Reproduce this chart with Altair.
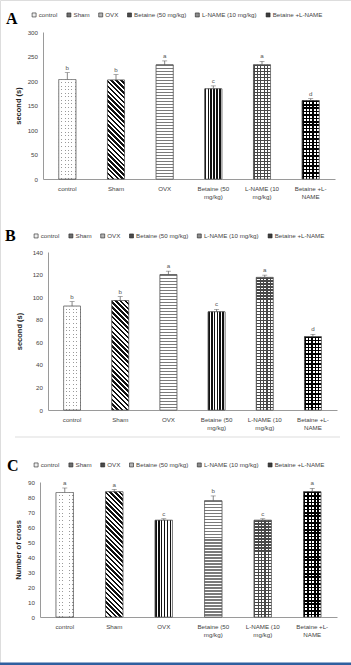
import altair as alt
import pandas as pd

# ---------------- data ----------------
cats = ["control", "Sham", "OVX", "Betaine (50 mg/kg)", "L-NAME (10 mg/kg)", "Betaine +L-NAME"]
cat_lines = [["control"], ["Sham"], ["OVX"], ["Betaine (50", "mg/kg)"],
             ["L-NAME (10", "mg/kg)"], ["Betaine +L-", "NAME"]]

a_vals = [203, 202, 233, 184, 233, 160]
a_errs = [14, 11, 8, 6, 7, 4]
a_letters = ["b", "b", "a", "c", "a", "d"]

b_vals = [92, 97, 120, 87, 117.5, 65]
b_errs = [4, 3.5, 3, 2.2, 2, 2]
b_letters = ["b", "b", "a", "c", "a", "d"]

c_vals = [83, 83.5, 64.5, 77.5, 64.5, 83.5]
c_errs = [3, 1.5, 1, 3.2, 1, 2.2]
c_letters = ["a", "a", "c", "b", "c", "a"]

a_ticks = [0, 50, 100, 150, 200, 250, 300]
b_ticks = [0, 20, 40, 60, 80, 100, 120, 140]
c_ticks = [0, 10, 20, 30, 40, 50, 60, 70, 80, 90]

patterns_ab = ["dots", "diag", "hstripe", "vstripe", "brick", "checker"]
patterns_c = ["dots", "diag", "vstripe", "hstripe", "brick", "checker"]

# ---------------- styling / page layout ----------------
PAGE_W, PAGE_H = 351, 665
FONT = "Liberation Sans"
TONE = {"dots": "#eeeeee", "diag": "#6e6e6e", "hstripe": "#b4b4b4",
        "vstripe": "#4a4a4a", "brick": "#8c8c8c", "checker": "#3c3c3c"}
CLEAR = "rgba(255,255,255,0)"
PAD_IN = 0.65
TXT = "#444444"
FS = 6.2


def stripe_stops(n, frac, c_on, c_off):
    n = max(int(round(n)), 1)
    stops = []
    for k in range(n):
        a, b, c = k / n, (k + frac) / n, (k + 1) / n
        stops += [(a, c_on), (b, c_on), (b, c_off), (c, c_off)]
    return [{"offset": round(o, 5), "color": col} for o, col in stops]


def lin(x1, y1, x2, y2, stops):
    return {"gradient": "linear", "x1": x1, "y1": y1, "x2": x2, "y2": y2, "stops": stops}


def horiz(h, period, frac, c_on, c_off):
    return lin(0, 0, 0, 1, stripe_stops(h / period, frac, c_on, c_off))


def vert(w, period, frac, c_on, c_off):
    return lin(0, 0, 1, 0, stripe_stops(w / period, frac, c_on, c_off))


def diag(w, h, period, frac, c_on, c_off):
    r = w / h
    s = (r + 1) / (r * r + 1)
    n = (w + h) / (2 ** 0.5) / period
    return lin(0, 1, s * r, 1 - s, stripe_stops(n, frac, c_on, c_off))


def overlays(pat, w, h):
    if pat == "dots":
        return ["#9a9a9a", vert(w, 3.6, 0.72, "#ffffff", CLEAR), horiz(h, 3.6, 0.72, "#ffffff", CLEAR)]
    if pat == "diag":
        return [diag(w, h, 3.4, 0.5, "#111111", "#ffffff")]
    if pat == "hstripe":
        return [horiz(h, 3.0, 0.5, "#7a7a7a", "#ffffff")]
    if pat == "vstripe":
        return [vert(w, 2.7, 0.55, "#111111", "#ffffff")]
    if pat == "brick":
        return ["#ffffff", horiz(h, 3.0, 0.45, "#484848", CLEAR), vert(w, 3.6, 0.32, "#484848", CLEAR)]
    if pat == "checker":
        return ["#ffffff", vert(w, 3.4, 0.45, "#000000", CLEAR), horiz(h, 3.4, 0.45, "#000000", CLEAR)]
    return []


def label_expr():
    expr = "datum.label"
    for c, lines in zip(cats, cat_lines):
        arr = "[" + ",".join("'" + t + "'" for t in lines) + "]"
        expr = f"datum.label == '{c}' ? {arr} : ({expr})"
    return expr


def panel(vals, errs, letters, patterns, ticks, ytitle, title_pad, letter, letter_pos,
          x0, x1, y0, y1, legx, legy, rules=(), rects=()):
    """x0..x1: plot left/right, y0: pixel of zero, y1: pixel of top tick."""
    dmax = ticks[-1]
    df = pd.DataFrame({"cat": cats, "val": vals, "err": errs, "lab": letters,
                       "hi": [v + e for v, e in zip(vals, errs)]})
    base = alt.Chart(df)
    xenc = alt.X("cat:N", sort=cats, title=None,
                 scale=alt.Scale(range=[x0, x1], paddingInner=PAD_IN, paddingOuter=PAD_IN / 2),
                 axis=alt.Axis(orient="bottom", offset=y0 - PAGE_H,
                               labelExpr=label_expr(), labelAngle=0, labelFontSize=FS,
                               labelColor=TXT, labelPadding=6.5, labelLineHeight=8,
                               labelBaseline="top", ticks=False, tickSize=0,
                               domainColor="#9a9a9a", labelLimit=200, labelFont=FONT))

    def yq(field):
        return alt.Y(field, title=ytitle,
                     scale=alt.Scale(domain=[0, dmax], range=[y0, y1], nice=False, zero=True),
                     axis=alt.Axis(orient="left", offset=-x0, values=ticks, grid=False,
                                   ticks=False, tickSize=0, labelFontSize=FS,
                                   labelColor=TXT, labelPadding=5.5, domainColor="#9a9a9a",
                                   labelOverlap=False, labelFlush=False, labelFont=FONT,
                                   titleFontSize=7.5, titleFontWeight="bold", titleColor="#222",
                                   titlePadding=title_pad, titleFont=FONT))

    yenc = yq("val:Q")
    yhi = yq("hi:Q")
    bars = base.mark_bar(stroke="#555555", strokeWidth=0.6).encode(
        x=xenc, y=yenc,
        fill=alt.Fill("cat:N", sort=cats,
                      scale=alt.Scale(domain=cats, range=[TONE[p] for p in patterns]),
                      legend=alt.Legend(orient="none", legendX=legx, legendY=legy,
                                        direction="horizontal", title=None,
                                        symbolType="square", symbolSize=16,
                                        symbolStrokeColor="#222", symbolStrokeWidth=0.6,
                                        labelFontSize=FS, labelColor=TXT, labelFont=FONT,
                                        labelOffset=1.5, columnPadding=6.8, padding=0)))
    layers = [bars]
    w = (x1 - x0) / len(cats) * (1 - PAD_IN)
    for c, p, v in zip(cats, patterns, vals):
        h = v / dmax * (y0 - y1)
        ovs = overlays(p, w, h)
        for i, f in enumerate(ovs):
            last = i == len(ovs) - 1
            layers.append(
                base.transform_filter(alt.datum.cat == c)
                .mark_bar(fill=f, stroke="#555555" if last else "transparent",
                          strokeWidth=0.6 if last else 0)
                .encode(x=xenc, y=yenc))
    layers.append(base.mark_rule(color="#555", strokeWidth=0.7).encode(
        x=xenc, y=yenc, y2="hi:Q"))
    layers.append(base.mark_tick(color="#555", thickness=0.7, size=5).encode(
        x=xenc, y=yhi))
    layers.append(base.mark_text(dy=-2, baseline="bottom", fontSize=FS,
                                 color="#555555", fill="#555555", font=FONT).encode(
        x=xenc, y=yhi, text="lab:N"))
    deco = alt.Chart(alt.Data(values=[{}]))
    layers.append(deco.mark_text(font="Liberation Serif", fontSize=16, fontWeight="bold",
                                 align="left", baseline="alphabetic", color="#000000").encode(
        x=alt.value(letter_pos[0]), y=alt.value(letter_pos[1]), text=alt.value(letter)))
    for (rx1, rx2, ry, col, sw) in rules:
        layers.append(deco.mark_rule(color=col, strokeWidth=sw).encode(
            x=alt.value(rx1), x2=alt.value(rx2), y=alt.value(ry)))
    for (qx1, qx2, qy1, qy2, col) in rects:
        layers.append(deco.mark_rect(color=col, strokeWidth=0).encode(
            x=alt.value(qx1), x2=alt.value(qx2), y=alt.value(qy1), y2=alt.value(qy2)))
    return alt.layer(*layers)


pA = panel(a_vals, a_errs, a_letters, patterns_ab, a_ticks, "second (s)", 4.5, "A", (6, 24),
           x0=43, x1=335, y0=179, y1=32, legx=31, legy=11.5)
pB = panel(b_vals, b_errs, b_letters, patterns_ab, b_ticks, "second (s)", 8.5, "B", (5, 241),
           x0=48, x1=337, y0=410, y1=252, legx=33, legy=232.5,
           rules=[(15, 340, 437, "#dddddd", 1)])
pC = panel(c_vals, c_errs, c_letters, patterns_c, c_ticks, "Number of cross", 5.5, "C", (7, 471),
           x0=40, x1=337, y0=617, y1=482, legx=33, legy=461.5,
           rects=[(0, PAGE_W, 662.5, PAGE_H, "#2f5f9f")])

chart = alt.layer(pA, pB, pC).resolve_scale(
    x="independent", y="independent", fill="independent"
).properties(
    width=PAGE_W, height=PAGE_H, padding=0, background="#ffffff",
    autosize=alt.AutoSizeParams(type="none")
).configure_view(stroke=None).configure(font=FONT)

chart.save("out.html", embed_options={"renderer": "svg", "actions": False})
